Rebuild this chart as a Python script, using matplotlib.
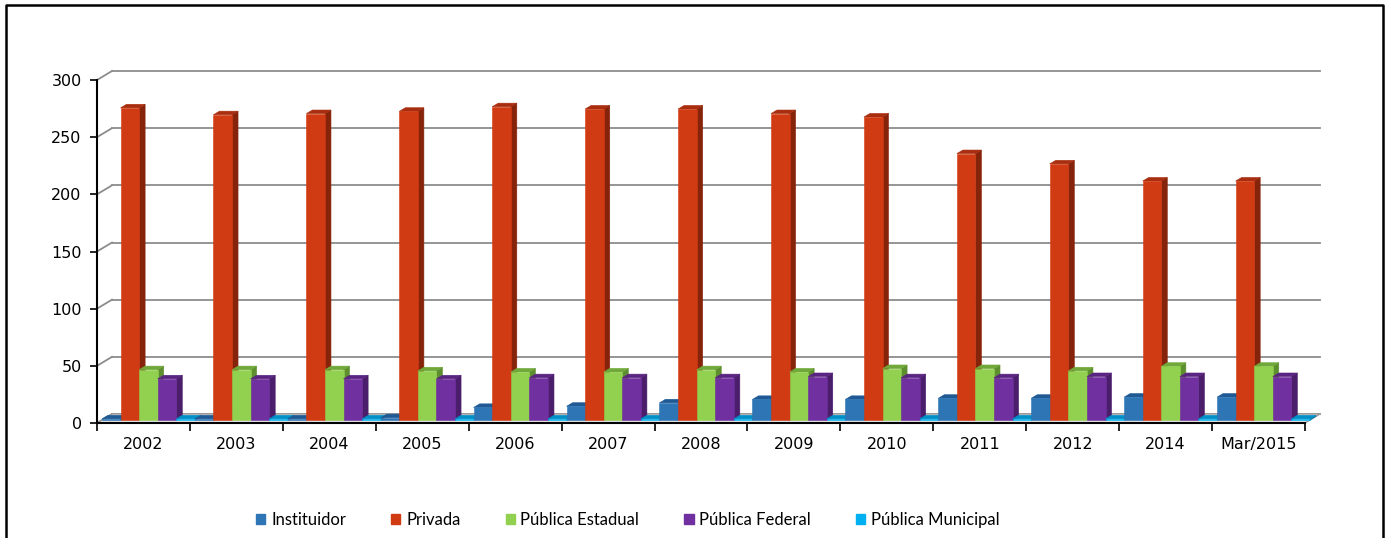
import numpy as np
import matplotlib.pyplot as plt
from matplotlib.patches import Rectangle, Polygon, Patch
from matplotlib.lines import Line2D

categories = ['2002', '2003', '2004', '2005', '2006', '2007', '2008',
              '2009', '2010', '2011', '2012', '2014', 'Mar/2015']
series_names = ['Instituidor', 'Privada', 'Pública Estadual',
                'Pública Federal', 'Pública Municipal']
instituidor = [1, 1, 1, 2, 11, 12, 15, 18, 18, 19, 19, 20, 20]
privada = [273, 267, 268, 270, 274, 272, 272, 268, 265, 233, 224, 209, 209]
publica_estadual = [44, 44, 44, 43, 42, 42, 44, 42, 45, 45, 43, 47, 47]
publica_federal = [36, 36, 36, 36, 37, 37, 37, 38, 37, 37, 38, 38, 38]
publica_municipal = [1, 1, 1, 1, 1, 1, 1, 1, 1, 1, 1, 1, 1]
values = [instituidor, privada, publica_estadual, publica_federal, publica_municipal]

# front, top, side colours
colors = [('#2E75B6', '#1F5A94', '#1D4F80'),
          ('#D13B13', '#A92E0F', '#86240B'),
          ('#92D050', '#70A83A', '#5E8F2E'),
          ('#7030A0', '#5A2582', '#4A1E6B'),
          ('#00B0F0', '#0090C8', '#0078A8')]

W, H = 1389, 538
fig = plt.figure(figsize=(W / 100, H / 100), dpi=100)
ax = fig.add_axes([97 / W, (H - 423) / H, 1208 / W, 343 / H])
n = len(categories)
ax.set_xlim(0, n)
ax.set_ylim(0, 300)

# depth of the 3d box in data units
DX = 15 / (1208 / n)
DY = 9 / (343 / 300)
za, zb = 0.33, 0.73

# floor
floor = Polygon([(0, 0), (n, 0), (n + DX, DY), (DX, DY)], closed=True,
                facecolor='#e6e6e6', edgecolor='#9a9a9a', lw=1.0, clip_on=False, zorder=1)
ax.add_patch(floor)

# walls grid
for v in range(0, 301, 50):
    ax.add_line(Line2D([DX, n + DX], [v + DY, v + DY], color='#8c8c8c', lw=1.3,
                       clip_on=False, zorder=0.5))
    ax.add_line(Line2D([0, DX], [v, v + DY], color='#8c8c8c', lw=1.3,
                       clip_on=False, zorder=0.5))


def draw_bar(x0, w, h, cf, ct, cs):
    ox, oy = za * DX, za * DY
    bx, by = zb * DX, zb * DY
    side = Polygon([(x0 + w + ox, oy), (x0 + w + bx, by), (x0 + w + bx, h + by),
                    (x0 + w + ox, h + oy)], closed=True, facecolor=cs, edgecolor=cs,
                   lw=0.4, clip_on=False, zorder=2)
    top = Polygon([(x0 + ox, h + oy), (x0 + w + ox, h + oy), (x0 + w + bx, h + by),
                   (x0 + bx, h + by)], closed=True, facecolor=ct, edgecolor=ct,
                  lw=0.4, clip_on=False, zorder=2)
    front = Rectangle((x0 + ox, oy), w, h, facecolor=cf, edgecolor=cf, lw=0.4,
                      clip_on=False, zorder=2)
    ax.add_patch(side)
    ax.add_patch(top)
    ax.add_patch(front)


bw = 1.0 / len(values)
for i in range(n):
    for s, vals in enumerate(values):
        cf, ct, cs = colors[s]
        draw_bar(i + s * bw, bw, vals[i], cf, ct, cs)

for sp in ['top', 'right']:
    ax.spines[sp].set_visible(False)
ax.spines['left'].set_color('black')
ax.spines['left'].set_linewidth(1.5)
ax.spines['bottom'].set_color('black')
ax.spines['bottom'].set_linewidth(1.5)
ax.spines['left'].set_zorder(3)
ax.spines['bottom'].set_zorder(3)

ax.set_yticks(range(0, 301, 50))
ax.tick_params(axis='y', direction='out', length=5, width=1.2, pad=6,
               labelsize=11.5, colors='black')
ax.set_xticks(np.arange(0, n + 1))
ax.set_xticklabels([])
ax.set_xticks(np.arange(n) + 0.5, minor=True)
ax.set_xticklabels(categories, minor=True)
ax.tick_params(axis='x', which='major', direction='out', length=6, width=1.2)
ax.tick_params(axis='x', which='minor', length=0, pad=10, labelsize=11.5)
ax.patch.set_visible(False)

# chart frame
fig.add_artist(Line2D([6 / W, 6 / W, 1383 / W, 1383 / W],
                      [-0.1, 1 - 5 / H, 1 - 5 / H, -0.1], color='black', lw=1.8))

handles = [Patch(facecolor=c[0], edgecolor=c[0]) for c in colors]
fig.legend(handles, series_names, loc='center', bbox_to_anchor=(628 / W, 18 / H),
           ncol=5, frameon=False, prop={'family': 'Lato', 'size': 12},
           handlelength=0.55, handleheight=0.55, handletextpad=0.35, columnspacing=2.7)

fig.savefig('out.png', dpi=100)
